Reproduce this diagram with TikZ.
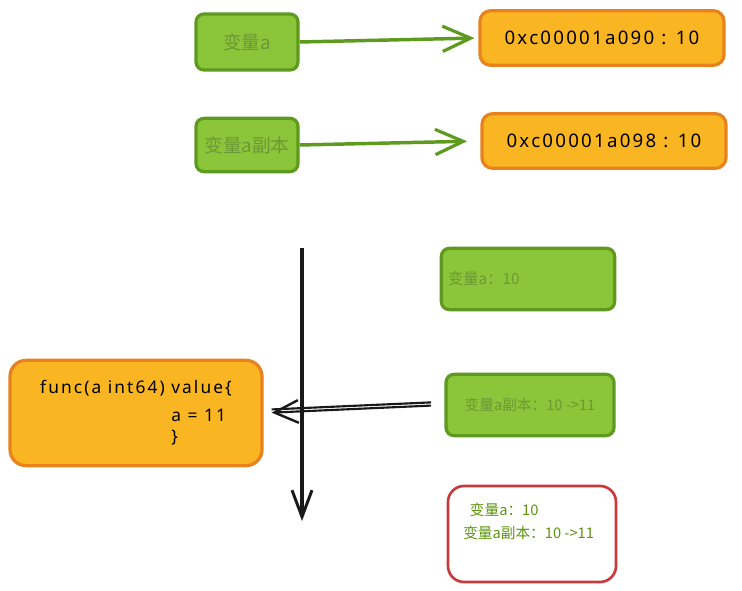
\documentclass[tikz,border=0pt]{standalone}
\usepackage{fontspec}
\setmainfont{Noto Sans CJK SC}
\newfontfamily\handlatin[LetterSpace=12]{Noto Sans}
\usetikzlibrary{arrows.meta}

\definecolor{varfill}{HTML}{8BC53A}
\definecolor{varstroke}{HTML}{5E9A1E}
\definecolor{vartext}{HTML}{6A9A35}
\definecolor{memfill}{HTML}{F9B522}
\definecolor{memstroke}{HTML}{E8821C}
\definecolor{notestroke}{HTML}{C93B3B}
\definecolor{notetext}{HTML}{5C940D}

\tikzset{
  varbox/.style={draw=varstroke, fill=varfill, line width=2.4pt, rounded corners=6pt,
    text=vartext, inner sep=2pt},
  membox/.style={draw=memstroke, fill=memfill, line width=2.4pt, rounded corners=8pt,
    text=black, minimum width=183pt, minimum height=41pt,
    font=\handlatin\fontsize{14}{16}\selectfont},
  notebox/.style={draw=notestroke, line width=2pt, rounded corners=12pt},
  ptrarrow/.style={draw=varstroke, line width=2.6pt,
    -{Straight Barb[length=21pt,width=19pt,line width=2.4pt]}},
  timeline/.style={draw=black!90, line width=2.4pt,
    -{Straight Barb[length=20pt,width=15pt,line width=2.2pt]}},
  callarrow/.style={draw=black!90, line width=1.6pt, shorten <=10pt, shorten >=6pt}
}

\begin{document}
\begin{tikzpicture}[x=0.75pt,y=0.75pt,yscale=-1,xscale=1]
\useasboundingbox (0,0) rectangle (742,591);

%Shape: Rectangle [variables]
\node[varbox, minimum width=76.5pt, minimum height=42pt, font=\fontsize{14}{16}\selectfont] (va) at (247,42) {变量a};
\node[varbox, minimum width=76.5pt, minimum height=40pt, font=\fontsize{14}{16}\selectfont] (vacopy) at (247,145) {变量a副本};

%Shape: Rectangle [addresses]
\node[membox] (addra) at (602,38) {0xc00001a090 : 10};
\node[membox] (addrcopy) at (604,141) {0xc00001a098 : 10};

%Straight Lines [pointers]
\draw[ptrarrow, shorten >=3pt] (va.east) -- (addra.west);
\draw[ptrarrow, shorten >=10pt] (vacopy.east) -- (addrcopy.west);

%Straight Lines [time]
\coordinate (tstart) at (302,248);
\coordinate (tend) at (302,521);
\draw[timeline] (tstart) -- (tend);

%Shape: Rectangle [states]
\node[varbox, minimum height=46pt, text width=120pt, align=left, inner xsep=5pt,
  font=\fontsize{11.5}{13}\selectfont] (before) at (528,279) {变量a：10};
\node[varbox, minimum width=126pt, minimum height=46pt,
  font=\fontsize{11}{13}\selectfont] (after) at (530,405) {变量a副本：10 ->11};

%Shape: Rectangle [func]
\node[draw=memstroke, fill=memfill, line width=2.4pt, rounded corners=12pt,
  minimum width=189pt, minimum height=79pt, align=left,
  font=\handlatin\fontsize{13}{16}\selectfont] (func) at (136,413)
  {func(a int64) value\{\\[5pt]
   \phantom{func(a int64) }a = 11\\
   \phantom{func(a int64) }\}};

%Straight Lines [call]
\draw[callarrow, -{Straight Barb[length=18pt,width=17pt,line width=1.8pt]}] (after.west) -- (func.east);
\draw[callarrow, transform canvas={yshift=2.4pt}] (after.west) -- (func.east);

%Shape: Rectangle [result]
\node[notebox, minimum width=126pt, minimum height=72pt] (result) at (532,534) {};
\node[anchor=north west, inner sep=0pt, align=left, text=notetext,
  font=\fontsize{11}{17}\selectfont] (resulttext) at (463,503)
  {\hspace*{5pt}变量a：10\\变量a副本：10 ->11};

\end{tikzpicture}
\end{document}
